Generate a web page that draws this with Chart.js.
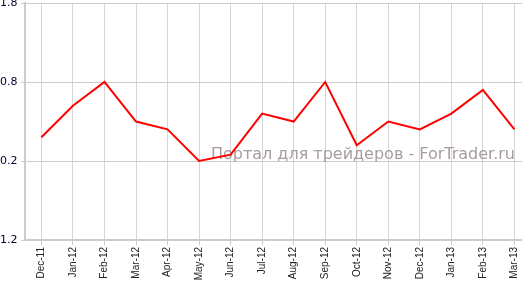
<!DOCTYPE html>
<html>
<head>
<meta charset="utf-8">
<script src="https://cdn.jsdelivr.net/npm/chart.js@4/dist/chart.umd.min.js"></script>
<style>
  html, body { margin: 0; padding: 0; background: #fff; }
  #wrap { width: 522px; height: 283px; position: relative; }
</style>
</head>
<body>
<div id="wrap"><canvas id="c"></canvas></div>
<script>
var months = ['Dec-11','Jan-12','Feb-12','Mar-12','Apr-12','May-12','Jun-12','Jul-12',
              'Aug-12','Sep-12','Oct-12','Nov-12','Dec-12','Jan-13','Feb-13','Mar-13'];
var values = [0.1, 0.5, 0.8, 0.3, 0.2, -0.2, -0.12, 0.4, 0.3, 0.8, 0.0, 0.3, 0.2, 0.4, 0.7, 0.2];
// labels as printed on the picture (minus signs are not shown there)
var yTicks = [1.8, 0.8, -0.2, -1.2];
var yTickLabels = ['1.8', '0.8', '0.2', '1.2'];

var points = values.map(function(v, i) {
  return { x: i, y: v };
});

// watermark text behind the line
var watermark = {
  id: 'watermark',
  beforeDatasetsDraw: function(chart) {
    var ctx = chart.ctx;
    ctx.save();
    ctx.font = '16px "DejaVu Sans"';
    ctx.fillStyle = '#a89c9c';
    ctx.textAlign = 'right';
    ctx.textBaseline = 'alphabetic';
    ctx.fillText('Портал для трейдеров - ForTrader.ru', 515, 159);
    ctx.restore();
  }
};

var config = {
  type: 'line',
  data: {
    datasets: [{
      data: points,
      borderColor: '#ff0000',
      borderWidth: 2,
      pointRadius: 0,
      tension: 0,
      fill: false
    }]
  },
  options: {
    responsive: true,
    maintainAspectRatio: false,
    animation: false,
    layout: { padding: { top: 3, right: 0, left: 0, bottom: 0 } },
    plugins: { legend: { display: false }, tooltip: { enabled: false } },
    scales: {
      x: {
        type: 'linear',
        min: -0.52,
        max: 15.24,
        afterBuildTicks: function(axis) {
          axis.ticks = months.map(function(m, i) { return { value: i }; });
        },
        afterFit: function(scale) {
          scale.height = 43;
          scale.paddingLeft = 0;
          scale.paddingRight = 0;
        },
        ticks: {
          autoSkip: false,
          minRotation: 90,
          maxRotation: 90,
          padding: 2,
          color: '#222',
          font: { family: '"Liberation Sans", Arial', size: 10 },
          callback: function(v) { return months[v]; }
        },
        grid: { color: '#d6d6d6', lineWidth: 1, tickLength: 5, tickColor: '#cccccc' },
        border: { color: '#cccccc', width: 2 }
      },
      y: {
        min: -1.2,
        max: 1.8,
        afterBuildTicks: function(axis) {
          axis.ticks = yTicks.map(function(v) { return { value: v }; });
        },
        afterFit: function(scale) {
          scale.width = 25;
          scale.paddingTop = 0;
          scale.paddingBottom = 0;
        },
        ticks: {
          crossAlign: 'far',
          padding: 2,
          color: '#000033',
          font: { family: '"DejaVu Sans", Verdana', size: 11 },
          callback: function(v) {
            var i = yTicks.indexOf(v);
            return i >= 0 ? yTickLabels[i] : '';
          }
        },
        grid: { color: '#cccccc', lineWidth: 1, tickLength: 4, tickColor: '#cccccc' },
        border: { color: '#cccccc', width: 2 }
      }
    }
  },
  plugins: [watermark]
};

var chart = new Chart(document.getElementById('c'), config);
</script>
</body>
</html>
